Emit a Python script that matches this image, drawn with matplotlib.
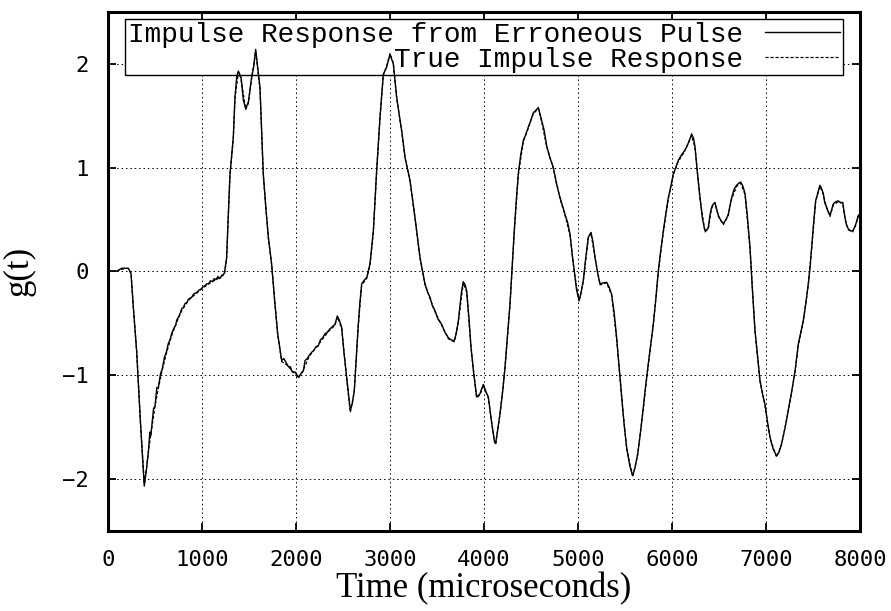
import matplotlib
matplotlib.use("Agg")
import matplotlib.pyplot as plt

# impulse response, time in microseconds
err_t = [90, 146, 216, 245, 270, 305, 345, 386, 410, 429, 445, 455, 465, 485, 500, 520, 535, 560, 575, 600,
         624, 640, 660, 677, 700, 720, 731, 750, 770, 784, 800, 820, 840, 855, 870, 890, 910, 930, 950, 970,
         990, 1010, 1030, 1050, 1070, 1090, 1110, 1130, 1150, 1170, 1190, 1210, 1238, 1262, 1280, 1298, 1333, 1351, 1370, 1387,
         1415, 1440, 1465, 1493, 1528, 1550, 1571, 1595, 1617, 1652, 1680, 1706, 1741, 1770, 1805, 1848, 1870, 1901, 1920, 1940,
         1960, 1990, 2025, 2050, 2078, 2096, 2120, 2140, 2167, 2190, 2210, 2237, 2260, 2285, 2309, 2330, 2355, 2380, 2415, 2440,
         2465, 2486, 2510, 2539, 2578, 2600, 2620, 2640, 2663, 2680, 2699, 2730, 2752, 2787, 2823, 2858, 2894, 2929, 2965, 3000,
         3035, 3071, 3100, 3124, 3160, 3213, 3266, 3319, 3372, 3400, 3426, 3450, 3479, 3510, 3550, 3580, 3621, 3650, 3684, 3705,
         3727, 3760, 3780, 3800, 3816, 3840, 3862, 3890, 3922, 3957, 3993, 4020, 4046, 4080, 4110, 4124, 4150, 4170, 4200, 4223,
         4250, 4277, 4300, 4322, 4345, 4365, 4390, 4418, 4445, 4471, 4500, 4525, 4550, 4578, 4595, 4614, 4640, 4667, 4700, 4738,
         4770, 4809, 4835, 4862, 4890, 4915, 4940, 4961, 4985, 5011, 5030, 5056, 5085, 5110, 5138, 5160, 5181, 5210, 5234, 5270,
         5305, 5330, 5358, 5385, 5411, 5440, 5465, 5490, 5518, 5550, 5582, 5610, 5635, 5665, 5695, 5720, 5748, 5775, 5801, 5830,
         5854, 5880, 5908, 5935, 5961, 5990, 6014, 6040, 6067, 6100, 6131, 6156, 6180, 6209, 6230, 6245, 6270, 6298, 6325, 6351,
         6370, 6386, 6405, 6422, 6440, 6457, 6475, 6493, 6520, 6546, 6575, 6599, 6620, 6635, 6660, 6688, 6710, 6731, 6755, 6777,
         6800, 6830, 6855, 6883, 6910, 6936, 6960, 6989, 7015, 7043, 7075, 7113, 7140, 7166, 7200, 7237, 7275, 7309, 7330, 7344,
         7370, 7397, 7425, 7450, 7470, 7486, 7505, 7528, 7550, 7574, 7590, 7610, 7625, 7645, 7660, 7681, 7700, 7716, 7740, 7769,
         7795, 7816, 7840, 7855, 7875, 7900, 7922, 7940, 7957, 7982, 8000]
err_g = [0.0, 0.03, 0.03, -0.02, -0.35, -0.77, -1.45, -2.07, -1.9, -1.75, -1.55, -1.58, -1.50, -1.32, -1.30, -1.12, -1.12, -0.98, -0.95, -0.83,
         -0.77, -0.70, -0.66, -0.60, -0.55, -0.52, -0.47, -0.44, -0.40, -0.36, -0.35, -0.31, -0.30, -0.27, -0.26, -0.25, -0.22, -0.21, -0.20, -0.18,
         -0.17, -0.15, -0.14, -0.12, -0.12, -0.09, -0.10, -0.07, -0.08, -0.05, -0.07, -0.04, -0.02, 0.13, 0.55, 0.94, 1.29, 1.68, 1.88, 1.93,
         1.87, 1.65, 1.57, 1.63, 1.87, 1.97, 2.14, 1.95, 1.77, 0.94, 0.60, 0.33, 0.07, -0.25, -0.60, -0.86, -0.84, -0.89, -0.92, -0.92,
         -0.97, -0.97, -1.02, -0.99, -0.96, -0.86, -0.84, -0.81, -0.78, -0.76, -0.73, -0.72, -0.66, -0.64, -0.60, -0.59, -0.56, -0.54, -0.51, -0.43,
         -0.48, -0.54, -0.78, -1.02, -1.34, -1.27, -1.15, -0.85, -0.51, -0.30, -0.12, -0.08, -0.06, 0.07, 0.39, 0.97, 1.49, 1.90, 1.97, 2.09,
         2.00, 1.68, 1.50, 1.36, 1.10, 0.875, 0.52, 0.135, -0.12, -0.20, -0.25, -0.33, -0.38, -0.46, -0.51, -0.58, -0.64, -0.66, -0.67, -0.60,
         -0.48, -0.20, -0.10, -0.13, -0.19, -0.45, -0.73, -0.98, -1.21, -1.18, -1.09, -1.16, -1.21, -1.45, -1.63, -1.66, -1.50, -1.375, -1.15, -0.93,
         -0.62, -0.31, 0.05, 0.39, 0.70, 0.94, 1.12, 1.26, 1.32, 1.39, 1.46, 1.53, 1.55, 1.58, 1.52, 1.45, 1.36, 1.21, 1.10, 1.00,
         0.85, 0.71, 0.63, 0.55, 0.47, 0.36, 0.15, 0.0, -0.18, -0.28, -0.22, -0.09, 0.15, 0.33, 0.375, 0.28, 0.135, -0.02, -0.12, -0.11,
         -0.106, -0.15, -0.22, -0.40, -0.64, -0.94, -1.21, -1.47, -1.70, -1.87, -1.97, -1.88, -1.76, -1.55, -1.31, -1.10, -0.89, -0.70, -0.51, -0.25,
         0.0, 0.20, 0.39, 0.56, 0.71, 0.83, 0.94, 1.00, 1.07, 1.12, 1.16, 1.20, 1.25, 1.325, 1.28, 1.20, 0.95, 0.71, 0.50, 0.39,
         0.40, 0.42, 0.55, 0.62, 0.65, 0.665, 0.60, 0.54, 0.49, 0.46, 0.50, 0.55, 0.65, 0.71, 0.79, 0.83, 0.85, 0.86, 0.82, 0.75,
         0.55, 0.23, -0.17, -0.57, -0.82, -1.05, -1.17, -1.28, -1.45, -1.60, -1.71, -1.78, -1.74, -1.66, -1.52, -1.34, -1.15, -0.96, -0.80, -0.70,
         -0.59, -0.475, -0.30, -0.12, 0.05, 0.23, 0.45, 0.68, 0.75, 0.83, 0.80, 0.75, 0.66, 0.62, 0.58, 0.54, 0.60, 0.65, 0.67, 0.68,
         0.66, 0.665, 0.52, 0.45, 0.41, 0.39, 0.39, 0.42, 0.46, 0.54, 0.55]

# the true response, smoother
true_t = [90, 146, 216, 245, 270, 305, 345, 386, 410, 429, 465, 500, 535, 575, 624, 677, 731, 784, 855, 930,
          1010, 1090, 1170, 1238, 1262, 1298, 1333, 1351, 1387, 1415, 1465, 1493, 1528, 1571, 1617, 1652, 1706, 1741, 1805, 1848,
          1901, 1960, 2025, 2078, 2140, 2210, 2285, 2355, 2415, 2440, 2486, 2539, 2578, 2620, 2663, 2699, 2752, 2787, 2823, 2858,
          2894, 2929, 2965, 3000, 3035, 3071, 3124, 3160, 3213, 3266, 3319, 3372, 3426, 3479, 3550, 3621, 3684, 3727, 3780, 3816,
          3862, 3922, 3957, 3993, 4046, 4110, 4124, 4170, 4223, 4277, 4322, 4365, 4418, 4471, 4525, 4578, 4614, 4667, 4738, 4809,
          4862, 4915, 4961, 5011, 5056, 5110, 5138, 5181, 5234, 5305, 5358, 5411, 5465, 5518, 5582, 5635, 5695, 5748, 5801, 5854,
          5908, 5961, 6014, 6067, 6131, 6209, 6245, 6298, 6351, 6386, 6422, 6457, 6493, 6546, 6599, 6635, 6688, 6731, 6777, 6830,
          6883, 6936, 6989, 7043, 7113, 7166, 7237, 7309, 7344, 7397, 7450, 7486, 7528, 7574, 7610, 7645, 7681, 7716, 7769, 7816,
          7840, 7875, 7922, 7957, 7982, 8000]
true_g = [0.0, 0.02, 0.03, -0.02, -0.35, -0.77, -1.45, -2.05, -1.9, -1.74, -1.52, -1.30, -1.13, -0.96, -0.78, -0.62, -0.49, -0.38, -0.28, -0.22,
          -0.16, -0.11, -0.07, -0.03, 0.12, 0.93, 1.28, 1.67, 1.92, 1.86, 1.56, 1.62, 1.86, 2.12, 1.76, 0.93, 0.32, 0.06, -0.61, -0.87,
          -0.90, -0.96, -1.03, -0.95, -0.82, -0.74, -0.65, -0.57, -0.52, -0.44, -0.55, -1.03, -1.36, -1.16, -0.52, -0.13, -0.07, 0.06, 0.38, 0.96,
          1.48, 1.89, 1.98, 2.10, 2.01, 1.67, 1.35, 1.09, 0.87, 0.51, 0.13, -0.13, -0.26, -0.39, -0.52, -0.65, -0.68, -0.49, -0.11, -0.20,
          -0.74, -1.22, -1.19, -1.10, -1.22, -1.64, -1.67, -1.38, -0.94, -0.32, 0.38, 0.93, 1.25, 1.38, 1.52, 1.57, 1.44, 1.20, 0.99, 0.70,
          0.54, 0.35, -0.01, -0.29, -0.10, 0.32, 0.37, 0.13, -0.13, -0.11, -0.23, -0.65, -1.22, -1.71, -1.98, -1.77, -1.32, -0.90, -0.52, -0.01,
          0.38, 0.70, 0.93, 1.06, 1.15, 1.31, 1.19, 0.70, 0.38, 0.41, 0.61, 0.66, 0.53, 0.45, 0.54, 0.70, 0.82, 0.85, 0.74, 0.22,
          -0.58, -1.06, -1.29, -1.61, -1.79, -1.67, -1.35, -0.97, -0.71, -0.48, -0.13, 0.22, 0.67, 0.82, 0.74, 0.61, 0.53, 0.64, 0.67, 0.66,
          0.51, 0.40, 0.38, 0.45, 0.53, 0.54]

x_ticks = [0, 1000, 2000, 3000, 4000, 5000, 6000, 7000, 8000]
y_ticks = [-2, -1, 0, 1, 2]

fig = plt.figure(figsize=(8.91, 6.11), dpi=100)
ax = fig.add_axes([0.1212, 0.1314, 0.8440, 0.8490])

ax.plot(err_t, err_g, color="black", lw=1.0, zorder=3, label="Impulse Response from Erroneous Pulse")
ax.plot(true_t, true_g, color="black", lw=0.9, ls=(0, (2.5, 1.5)), zorder=3, label="True Impulse Response")

ax.set_xlim(0, 8000)
ax.set_ylim(-2.5, 2.5)
ax.set_xticks(x_ticks)
ax.set_yticks(y_ticks)

# gnuplot look: dotted grid, inward ticks on every side
ax.set_axisbelow(True)
ax.grid(True, color="black", lw=0.7, ls=(0, (1.5, 3)))
ax.tick_params(direction="in", length=6, width=1.3, top=True, right=True, pad=14)
for lab in ax.get_xticklabels() + ax.get_yticklabels():
    lab.set_fontfamily("DejaVu Sans Mono")
    lab.set_fontsize(16)
for sp in ax.spines.values():
    sp.set_linewidth(2.2)

ax.set_xlabel("Time (microseconds)", fontfamily="Liberation Serif", fontsize=25)
ax.set_ylabel("g(t)", fontfamily="Liberation Serif", fontsize=25)
ax.xaxis.set_label_coords(0.5, -0.08)
ax.yaxis.set_label_coords(-0.096, 0.5)

leg = ax.legend(loc="upper right", bbox_to_anchor=(0.977, 0.986), markerfirst=False,
                prop={"family": "Liberation Mono", "size": 20}, fancybox=False, shadow=False,
                framealpha=1, edgecolor="black", borderaxespad=0, borderpad=0.1,
                handlelength=2.7, handletextpad=0.8, labelspacing=-0.05)
leg.get_frame().set_linewidth(1.0)
leg.set_zorder(1)

fig.savefig("out.png", dpi=100)
